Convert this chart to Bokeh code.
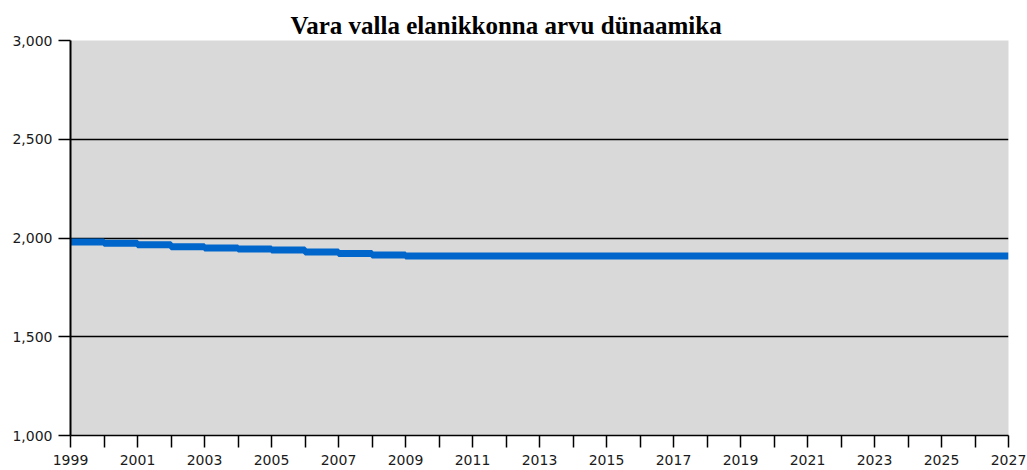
from bokeh.plotting import figure
from bokeh.models import FixedTicker, NumeralTickFormatter, Range1d
from bokeh.embed import file_html
from bokeh.resources import INLINE

title_text = "Vara valla elanikkonna arvu dünaamika"
years = list(range(1999, 2028))
population = [1980, 1974, 1966, 1956, 1949, 1944, 1939, 1929, 1922, 1914,
              1909, 1909, 1909, 1909, 1909, 1909, 1909, 1909, 1909, 1909,
              1909, 1909, 1909, 1909, 1909, 1909, 1909, 1909, 1909]
x_label_years = list(range(1999, 2028, 2))
x_minor_years = list(range(2000, 2027, 2))
y_ticks = [1000, 1500, 2000, 2500, 3000]

p = figure(width=1027, height=470, output_backend="svg", toolbar_location=None,
           x_range=Range1d(1999, 2027), y_range=Range1d(1000, 3000),
           min_border_left=70, min_border_right=19, min_border_top=40, min_border_bottom=35)

p.title.text = title_text
p.title.align = "left"
p.title.text_font = "Liberation Serif"
p.title.text_font_size = "25px"
p.title.text_font_style = "bold"
p.title.text_color = "black"
p.title.standoff = 4
p.title.offset = 220

p.background_fill_color = "#D9D9D9"
p.border_fill_color = "white"
p.outline_line_color = None

p.step(years, population, mode="after", line_width=7, line_color="#0066CC")

p.xgrid.grid_line_color = None
p.ygrid.grid_line_color = "black"
p.ygrid.grid_line_width = 1.5
p.ygrid.ticker = FixedTicker(ticks=y_ticks)

p.xaxis.ticker = FixedTicker(ticks=x_label_years, minor_ticks=x_minor_years)
p.xaxis.major_tick_out = 12
p.xaxis.major_tick_in = 0
p.xaxis.minor_tick_out = 12
p.xaxis.minor_tick_in = 0
p.xaxis.major_tick_line_color = "black"
p.xaxis.minor_tick_line_color = "black"
p.xaxis.major_tick_line_width = 1.5
p.xaxis.minor_tick_line_width = 1.5
p.xaxis.axis_line_color = "black"
p.xaxis.axis_line_width = 1.5
p.xaxis.major_label_text_font = "DejaVu Sans"
p.xaxis.major_label_text_font_size = "14px"
p.xaxis.major_label_text_color = "#1a1a1a"
p.xaxis.major_label_standoff = 7

p.yaxis.ticker = FixedTicker(ticks=y_ticks)
p.yaxis.formatter = NumeralTickFormatter(format="0,0")
p.yaxis.major_tick_out = 12
p.yaxis.major_tick_in = 0
p.yaxis.minor_tick_line_color = None
p.yaxis.major_tick_line_color = "black"
p.yaxis.major_tick_line_width = 1.5
p.yaxis.axis_line_color = "black"
p.yaxis.axis_line_width = 2
p.yaxis.major_label_text_font = "DejaVu Sans"
p.yaxis.major_label_text_font_size = "14px"
p.yaxis.major_label_text_color = "#1a1a1a"
p.yaxis.major_label_standoff = 6

open("out.html", "w").write(file_html(p, INLINE))
